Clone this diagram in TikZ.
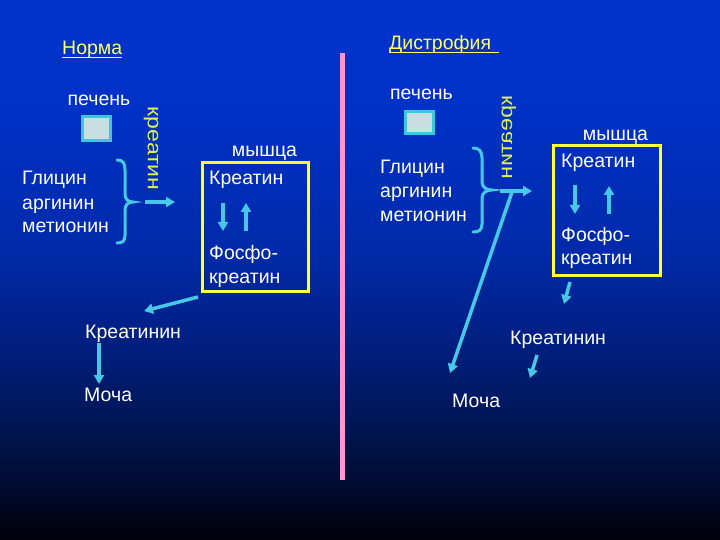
\documentclass[tikz,border=0pt]{standalone}
\usepackage{fontspec}
\setmainfont{Liberation Sans}
\usetikzlibrary{arrows.meta}
\definecolor{cy}{RGB}{70,200,230}
\definecolor{yb}{RGB}{255,255,60}
\definecolor{ytxt}{RGB}{255,255,110}
\definecolor{rottxt}{RGB}{225,240,80}
\definecolor{pinkl}{RGB}{255,150,210}
\definecolor{boxfill}{RGB}{200,222,225}
\definecolor{boxedge}{RGB}{60,200,220}
\definecolor{bga}{RGB}{0,0,8}
\definecolor{bgb}{RGB}{0,8,40}
\definecolor{bgc}{RGB}{0,20,75}
\definecolor{bgd}{RGB}{0,30,125}
\definecolor{bge}{RGB}{0,42,170}
\definecolor{bgf}{RGB}{0,50,200}
\definecolor{bgg}{RGB}{0,51,204}
\pgfdeclareverticalshading{bgshade}{100bp}{color(0bp)=(bga); color(25bp)=(bga); color(28.7bp)=(bgb); color(34.26bp)=(bgc); color(42.6bp)=(bgd); color(51.85bp)=(bge); color(65.74bp)=(bgf); color(75bp)=(bgg); color(100bp)=(bgg)}
\tikzset{
  txt/.style={text=white, font=\fontsize{19.5}{23}\selectfont, inner sep=0pt},
  ttl/.style={text=ytxt, font=\fontsize{19.5}{23}\selectfont, inner sep=0pt},
  rottext/.style={text=rottxt, font=\fontsize{19.5}{23}\selectfont, inner sep=0pt, rotate=-90},
  ul/.style={draw=ytxt, line width=1.5pt},
  liver/.style={draw=boxedge, fill=boxfill, line width=3pt, inner sep=0pt},
  ybox/.style={draw=yb, line width=3pt, inner sep=0pt},
  arr/.style={draw=cy, line width=3.5pt, -{Triangle[length=9pt,width=10pt]}},
  bracestyle/.style={draw=cy, line width=3pt, line cap=round}
}
\begin{document}
\begin{tikzpicture}[x=1pt,y=-1pt]
\useasboundingbox (0,0) rectangle (720,540);
\shade[shading=bgshade] (0,0) rectangle (720,540);
% divider
\draw[pinkl, line width=5pt] (342.5,53) -- (342.5,480);
% titles
\node[ttl, anchor=base west] (norma) at (62,55) {Норма};
\draw[ul] ([yshift=-2.5pt]norma.base west) -- ([yshift=-2.5pt]norma.base east);
\node[ttl, anchor=base west] (dis) at (389,50) {Дистрофия};
\draw[ul] ([yshift=-2.5pt]dis.base west) -- ++(110,0);

% ===== left (norm) =====
\node[txt, anchor=base] (pech1) at (99,106) {печень};
\node[liver, minimum width=28pt, minimum height=24pt] (liv1) at (96.5,128.5) {};
\node[rottext] (kr1) at (151,148.5) {\scalebox{1.18}[1]{креатин}};
\node[txt, anchor=base west] (gl1) at (22,185) {Глицин};
\node[txt, anchor=base west] (ar1) at (22,210) {аргинин};
\node[txt, anchor=base west] (me1) at (22,233) {метионин};
\draw[bracestyle] (117,160) .. controls (123,160) and (125,163) .. (125,170) -- (125,194) .. controls (125,199) and (128,202) .. (133,202) .. controls (128,202) and (125,205) .. (125,210) -- (125,235) .. controls (125,241) and (123,243) .. (117,243);
\coordinate (b1s) at (145,202);
\coordinate (b1e) at (175,202);
\draw[arr] (b1s) -- (b1e);
\node[txt, anchor=base] (my1) at (264.5,157) {мышца};
\node[ybox, minimum width=106pt, minimum height=129pt] (box1) at (255.5,227) {};
\node[txt, anchor=base west] (cr1) at (209,185) {Креатин};
\node[txt, anchor=base west] (ph1) at (209,259) {Фосфо-};
\node[txt, anchor=base west] (pc1) at (209,283) {креатин};
\coordinate (d1s) at (223,203); \coordinate (d1e) at (223,231);
\coordinate (u1s) at (246,231); \coordinate (u1e) at (246,203);
\draw[arr] (d1s) -- (d1e);
\draw[arr] (u1s) -- (u1e);
\node[txt, anchor=base west] (crn1) at (85,338) {Креатинин};
\node[txt, anchor=base west] (mo1) at (84,401) {Моча};
\coordinate (c1s) at (198,297); \coordinate (c1e) at (144,311);
\draw[arr] (c1s) -- (c1e);
\coordinate (m1s) at (99,343); \coordinate (m1e) at (99,384);
\draw[arr] (m1s) -- (m1e);

% ===== right (dystrophy) =====
\node[txt, anchor=base] (pech2) at (421.5,100) {печень};
\node[liver, minimum width=28pt, minimum height=22pt] (liv2) at (419.5,122.5) {};
\node[rottext] (kr2) at (509,137.5) {\scalebox{1.18}[-1]{креатин}};
\node[txt, anchor=base west] (gl2) at (380,174) {Глицин};
\node[txt, anchor=base west] (ar2) at (380,198) {аргинин};
\node[txt, anchor=base west] (me2) at (380,222) {метионин};
\draw[bracestyle] (473,148) .. controls (479,148) and (482,151) .. (482,158) -- (482,182) .. controls (482,187) and (486,190) .. (492,190) .. controls (486,190) and (482,193) .. (482,198) -- (482,224) .. controls (482,230) and (479,232) .. (473,232);
\coordinate (b2s) at (500,191);
\coordinate (b2e) at (532,191);
\draw[arr] (b2s) -- (b2e);
\node[txt, anchor=base] (my2) at (615.5,141) {мышца};
\node[ybox, minimum width=107pt, minimum height=130pt] (box2) at (607,210.5) {};
\node[txt, anchor=base west] (cr2) at (561,168) {Креатин};
\node[txt, anchor=base west] (ph2) at (561,241) {Фосфо-};
\node[txt, anchor=base west] (pc2) at (561,264) {креатин};
\coordinate (d2s) at (575,185); \coordinate (d2e) at (575,214);
\coordinate (u2s) at (609,214); \coordinate (u2e) at (609,186);
\draw[arr] (d2s) -- (d2e);
\draw[arr] (u2s) -- (u2e);
\coordinate (l2s) at (512,192); \coordinate (l2e) at (450,373);
\draw[arr] (l2s) -- (l2e);
\coordinate (s2s) at (570,282); \coordinate (s2e) at (564,304);
\draw[arr] (s2s) -- (s2e);
\node[txt, anchor=base west] (crn2) at (510,344) {Креатинин};
\coordinate (t2s) at (537,355); \coordinate (t2e) at (530,378);
\draw[arr] (t2s) -- (t2e);
\node[txt, anchor=base west] (mo2) at (452,407) {Моча};
\end{tikzpicture}
\end{document}
